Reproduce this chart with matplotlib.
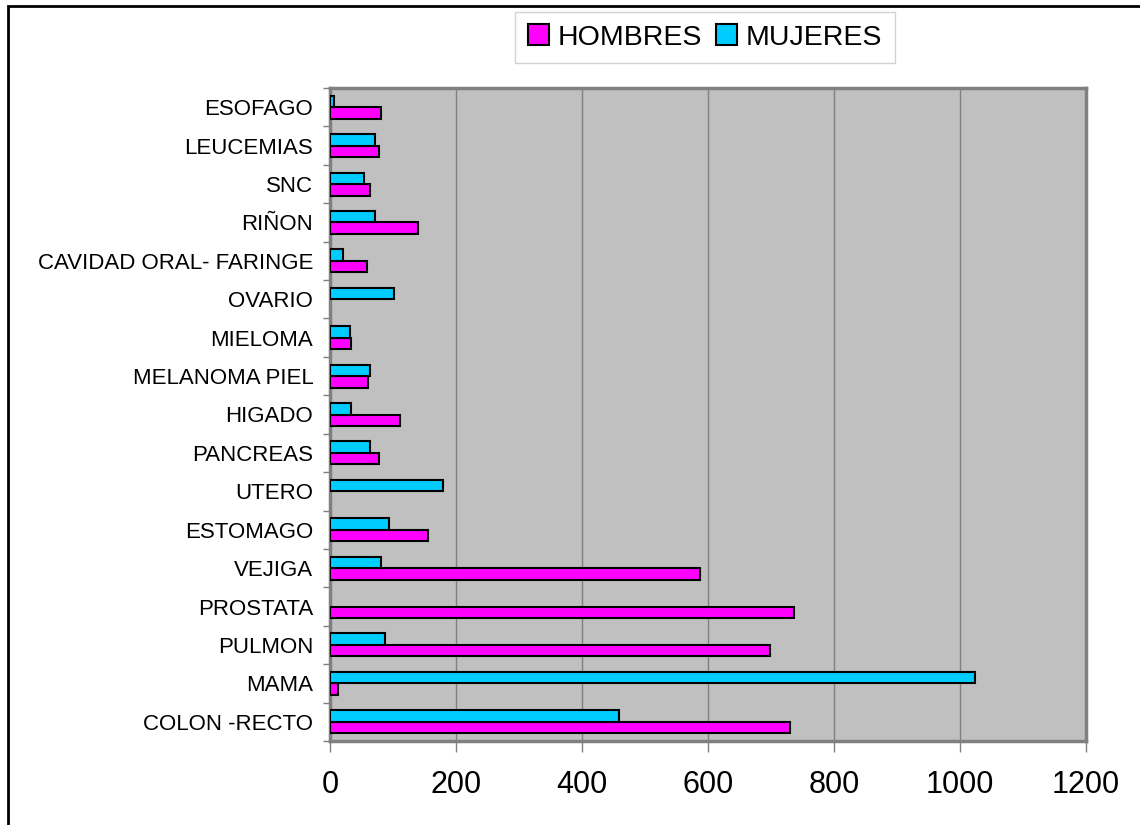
import numpy as np
import matplotlib
matplotlib.use("Agg")
from matplotlib import pyplot as plt
from matplotlib.patches import Rectangle

plt.rcParams['font.family'] = ['Liberation Sans', 'DejaVu Sans']

# categorias de abajo hacia arriba
categorias = ['COLON -RECTO', 'MAMA', 'PULMON', 'PROSTATA', 'VEJIGA', 'ESTOMAGO',
              'UTERO', 'PANCREAS', 'HIGADO', 'MELANOMA PIEL', 'MIELOMA', 'OVARIO',
              'CAVIDAD ORAL- FARINGE', 'RIÑON', 'SNC', 'LEUCEMIAS', 'ESOFAGO']
hombres = [730, 13, 699, 737, 587, 156, 0, 78, 111, 61, 34, 0, 58, 139, 64, 78, 81]
mujeres = [458, 1024, 88, 0, 81, 94, 180, 64, 33, 64, 31, 102, 20, 71, 54, 71, 6]
x_ticks = [0, 200, 400, 600, 800, 1000, 1200]

fig = plt.figure(figsize=(11.4, 8.25), dpi=100)
ax = fig.add_axes([330/1140, 1 - 741/825, (1086-330)/1140, (741-88)/825])
ax.set_facecolor('#C0C0C0')

y = np.arange(len(categorias))
h = 0.3
b1 = ax.barh(y - h/2, hombres, height=h, color='#FF00FF', edgecolor='black', linewidth=1.5,
             label='HOMBRES', zorder=3)
b2 = ax.barh(y + h/2, mujeres, height=h, color='#00CCFF', edgecolor='black', linewidth=1.5,
             label='MUJERES', zorder=3)
# las barras en cero no se dibujan
for bars in (b1, b2):
    for r in bars:
        if r.get_width() == 0:
            r.set_visible(False)

ax.set_xlim(0, 1200)
ax.set_ylim(-0.5, len(categorias) - 0.5)
ax.set_xticks(x_ticks)
ax.set_xticklabels([str(t) for t in x_ticks], fontsize=22)
ax.set_yticks(y)
ax.set_yticklabels(categorias, fontsize=16)
ax.set_yticks(np.arange(-0.5, len(categorias), 1), minor=True)
ax.tick_params(axis='y', which='major', length=0, pad=12)
ax.tick_params(axis='y', which='minor', length=5, color='#808080', width=1)
ax.tick_params(axis='x', length=8, color='#808080', width=1, pad=13)
ax.grid(axis='x', color='#808080', linewidth=1, zorder=1)
ax.set_axisbelow(True)
for s in ax.spines.values():
    s.set_color('#808080')
    s.set_linewidth(2.5)

leg = fig.legend(loc='center', bbox_to_anchor=(705/1140, 1 - 37.5/825), ncol=2,
                 fontsize=20.5, frameon=True, fancybox=False, handlelength=0.75,
                 handleheight=0.75, handletextpad=0.3, columnspacing=0.5,
                 borderpad=0.45, borderaxespad=0)
leg.get_frame().set_edgecolor('#C8C8C8')
leg.get_frame().set_linewidth(1)

# borde del grafico
fig.patches.append(Rectangle((8/1140, -0.1), 1.2, 1.1 - 6/825, transform=fig.transFigure,
                             fill=False, edgecolor='black', linewidth=2))

fig.savefig('out.png', dpi=100)
